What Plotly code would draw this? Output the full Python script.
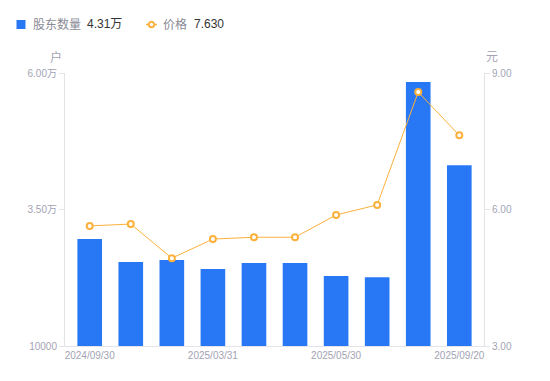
import plotly.graph_objects as go

dates = ["2024/09/30", "2024/12/31", "2025/02/28", "2025/03/31", "2025/04/20",
         "2025/04/30", "2025/05/30", "2025/06/30", "2025/08/31", "2025/09/20"]
holders = [29600, 25400, 25750, 24100, 25200, 25200, 22800, 22600, 58350, 43100]
prices = [5.64, 5.68, 4.93, 5.35, 5.39, 5.39, 5.88, 6.10, 8.58, 7.63]

x_ticks = ["2024/09/30", "2025/03/31", "2025/05/30", "2025/09/20"]
left_tickvals = [10000, 35000, 60000]
left_ticktext = ["10000", "3.50万", "6.00万"]
right_tickvals = [3, 6, 9]
right_ticktext = ["3.00", "6.00", "9.00"]

BAR = "#2878f5"
LINE = "#fbb13c"
GRAY = "#a3a3b3"
AXIS = "#e3e3e8"
FONT = "Liberation Sans, Noto Sans CJK SC, sans-serif"

# page has an 8px body margin; figure sized to fit the 550x381 window
OFF = 8
W, H = 550 - OFF, 381 - OFF
# plot area in page pixels
L, R, T, B = 65, 484, 73, 346
def px(x):
    return (x - L) / (R - L)
def py(y):
    return (B - y) / (B - T)

fig = go.Figure()
fig.add_trace(go.Bar(
    x=dates, y=holders, name="股东数量",
    marker=dict(color=BAR, line=dict(width=0)), width=0.6, yaxis="y"))
fig.add_trace(go.Scatter(
    x=dates, y=prices, name="价格",
    mode="lines+markers", yaxis="y2",
    line=dict(color=LINE, width=1),
    marker=dict(symbol="circle", size=6, color="white",
                line=dict(color=LINE, width=2))))

legend_texts = [
    (31, "股东数量", "#8a8a96"),
    (85, "4.31万", "#333333"),
    (161, "价格", "#8a8a96"),
    (192, "7.630", "#333333"),
]
annotations = [
    dict(text=t, xref="paper", yref="paper", x=px(xp), y=py(24.5),
         xanchor="left", yanchor="middle", showarrow=False,
         font=dict(size=12, color=c, family=FONT))
    for xp, t, c in legend_texts
]
annotations += [
    dict(text="户", xref="paper", yref="paper", x=px(64), y=py(57),
         xanchor="right", yanchor="middle", showarrow=False,
         font=dict(size=12, color=GRAY, family=FONT)),
    dict(text="元", xref="paper", yref="paper", x=px(484), y=py(57),
         xanchor="left", yanchor="middle", showarrow=False,
         font=dict(size=12, color=GRAY, family=FONT)),
]

shapes = [
    dict(type="rect", xref="paper", yref="paper", x0=px(16.5), x1=px(25.5),
         y0=py(29), y1=py(20), fillcolor=BAR, line=dict(width=0)),
    dict(type="line", xref="paper", yref="paper", x0=px(146), x1=px(157),
         y0=py(24.5), y1=py(24.5), line=dict(color=LINE, width=1.5)),
    dict(type="circle", xref="paper", yref="paper", x0=px(148.8), x1=px(154.2),
         y0=py(27.2), y1=py(21.8), fillcolor="white", line=dict(color=LINE, width=2)),
]

fig.update_layout(
    width=W, height=H,
    margin=dict(l=L - OFF, r=550 - R, t=T - OFF, b=381 - B, autoexpand=False),
    paper_bgcolor="white", plot_bgcolor="white",
    font=dict(family=FONT, size=10, color=GRAY),
    showlegend=False,
    xaxis=dict(type="category", tickmode="array", tickvals=x_ticks, ticktext=x_ticks,
               showline=True, linecolor=AXIS, linewidth=1, showgrid=False,
               ticks="", tickfont=dict(size=10, color=GRAY), zeroline=False,
               automargin=False),
    yaxis=dict(range=[10000, 60000], tickvals=left_tickvals, ticktext=left_ticktext,
               showline=True, linecolor=AXIS, linewidth=1, showgrid=False,
               ticks="outside", ticklen=5, tickcolor=AXIS,
               tickfont=dict(size=10, color=GRAY), zeroline=False, automargin=False),
    yaxis2=dict(range=[3, 9], tickvals=right_tickvals, ticktext=right_ticktext,
                overlaying="y", side="right",
                showline=True, linecolor=AXIS, linewidth=1, showgrid=False,
                ticks="outside", ticklen=5, tickcolor=AXIS,
                tickfont=dict(size=10, color=GRAY), zeroline=False, automargin=False),
    annotations=annotations,
    shapes=shapes,
)

fig.write_html("out.html")
